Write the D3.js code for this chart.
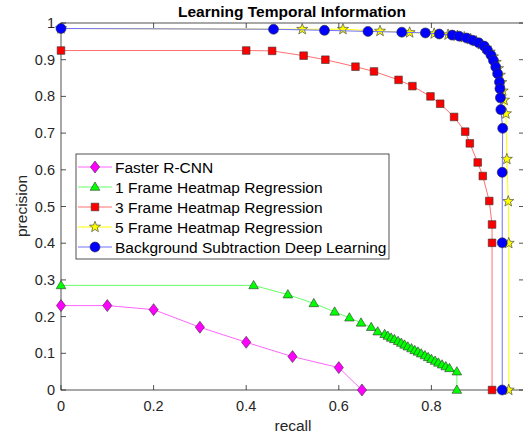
<!DOCTYPE html>
<html>
<head>
<meta charset="utf-8">
<script src="https://cdn.jsdelivr.net/npm/d3@7"></script>
<style>
  body { margin: 0; background: #fff; }
  svg text { font-family: "Liberation Sans", Arial, sans-serif; }
</style>
</head>
<body>
<svg id="chart" width="523" height="436"></svg>
<script>
// values
var xTicks = [0, 0.2, 0.4, 0.6, 0.8, 1]
var yTicks = [0, 0.1, 0.2, 0.3, 0.4, 0.5, 0.6, 0.7, 0.8, 0.9, 1]

var fasterRecall = [0, 0.1, 0.2, 0.3, 0.4, 0.5, 0.6, 0.65]
var fasterPrecision = [0.23, 0.23, 0.219, 0.171, 0.13, 0.091, 0.061, 0]

var frame1Recall = [0, 0.416, 0.49, 0.546, 0.591, 0.623, 0.648, 0.67, 0.684,
  0.699, 0.706, 0.713, 0.72, 0.728, 0.735, 0.742, 0.749, 0.757, 0.764,
  0.771, 0.778, 0.786, 0.793, 0.8, 0.808, 0.815, 0.823, 0.831, 0.839, 0.855, 0.855]
var frame1Precision = [0.285, 0.285, 0.26, 0.236, 0.213, 0.197, 0.183, 0.171, 0.159,
  0.152, 0.147, 0.142, 0.138, 0.133, 0.128, 0.123, 0.118, 0.113, 0.108,
  0.104, 0.099, 0.094, 0.089, 0.084, 0.079, 0.074, 0.069, 0.064, 0.059, 0.05, 0]

var frame3Recall = [0, 0.4, 0.456, 0.524, 0.571, 0.636, 0.676, 0.729, 0.759, 0.798,
  0.819, 0.849, 0.873, 0.883, 0.9, 0.911, 0.925, 0.931, 0.931, 0.931]
var frame3Precision = [0.925, 0.925, 0.924, 0.911, 0.9, 0.881, 0.868, 0.845, 0.828, 0.8,
  0.78, 0.744, 0.704, 0.672, 0.62, 0.583, 0.515, 0.451, 0.401, 0]

var frame5Recall = [0, 0.521, 0.609, 0.689, 0.753, 0.806, 0.836, 0.856, 0.871, 0.885,
  0.897, 0.908, 0.918, 0.926, 0.933, 0.939, 0.944, 0.948, 0.951, 0.954, 0.957,
  0.961, 0.963, 0.966, 0.967, 0.967]
var frame5Precision = [0.985, 0.983, 0.983, 0.978, 0.974, 0.971, 0.968, 0.965, 0.961, 0.956,
  0.95, 0.942, 0.932, 0.921, 0.908, 0.893, 0.876, 0.858, 0.838, 0.815, 0.79,
  0.753, 0.629, 0.514, 0.4, 0]

var bsdlRecall = [0, 0.459, 0.569, 0.663, 0.736, 0.787, 0.817, 0.845, 0.86, 0.876,
  0.889, 0.902, 0.914, 0.921, 0.929, 0.934, 0.939, 0.943, 0.947, 0.948, 0.949,
  0.95, 0.954, 0.953, 0.953, 0.953]
var bsdlPrecision = [0.985, 0.983, 0.98, 0.977, 0.975, 0.973, 0.97, 0.967, 0.964, 0.959,
  0.953, 0.946, 0.937, 0.926, 0.912, 0.898, 0.88, 0.862, 0.839, 0.821, 0.796,
  0.764, 0.713, 0.593, 0.401, 0]

var seriesNames = ["Faster R-CNN", "1 Frame Heatmap Regression", "3 Frame Heatmap Regression",
  "5 Frame Heatmap Regression", "Background Subtraction Deep Learning"]

var series = [
  { name: seriesNames[0], x: fasterRecall, y: fasterPrecision, line: "#ff66ff", fill: "#ff00ff", marker: "diamond" },
  { name: seriesNames[1], x: frame1Recall, y: frame1Precision, line: "#66ff66", fill: "#00ff00", marker: "triangle" },
  { name: seriesNames[2], x: frame3Recall, y: frame3Precision, line: "#ff7070", fill: "#ff0000", marker: "square" },
  { name: seriesNames[3], x: frame5Recall, y: frame5Precision, line: "#ffff00", fill: "#ffff00", marker: "star" },
  { name: seriesNames[4], x: bsdlRecall, y: bsdlPrecision, line: "#7070ff", fill: "#0000ff", marker: "circle" }
]

var margin = { left: 61, top: 23, right: 524, bottom: 390 }
var axisColor = "#262626"

var svg = d3.select("#chart")
var xScale = d3.scaleLinear().domain([0, 1]).range([margin.left, margin.right])
var yScale = d3.scaleLinear().domain([0, 1]).range([margin.bottom, margin.top])

function markerPath(type) {
  if (type == "diamond") return "M0,-6L4.6,0L0,6L-4.6,0Z"
  if (type == "triangle") return "M0,-5L4.8,3.3L-4.8,3.3Z"
  if (type == "square") return "M-3.8,-3.8H3.8V3.8H-3.8Z"
  if (type == "circle") return "M5,0A5,5 0 1,1 -5,0A5,5 0 1,1 5,0Z"
  // star
  var pts = []
  for (var k = 0; k < 10; k++) {
    var r = k % 2 == 0 ? 5.8 : 2.4
    var a = -Math.PI / 2 + k * Math.PI / 5
    pts.push([r * Math.cos(a), r * Math.sin(a)])
  }
  return "M" + pts.map(function(p) { return p[0].toFixed(2) + "," + p[1].toFixed(2) }).join("L") + "Z"
}

// axes box
svg.append("rect")
  .attr("x", margin.left).attr("y", margin.top)
  .attr("width", margin.right - margin.left).attr("height", margin.bottom - margin.top)
  .attr("fill", "#fff").attr("stroke", axisColor).attr("stroke-width", 0.8)

var tickLen = 5
var ticksG = svg.append("g").attr("stroke", axisColor).attr("stroke-width", 0.8)
xTicks.forEach(function(t) {
  var x = xScale(t)
  ticksG.append("line").attr("x1", x).attr("x2", x).attr("y1", margin.bottom).attr("y2", margin.bottom - tickLen)
  ticksG.append("line").attr("x1", x).attr("x2", x).attr("y1", margin.top).attr("y2", margin.top + tickLen)
})
yTicks.forEach(function(t) {
  var y = yScale(t)
  ticksG.append("line").attr("x1", margin.left).attr("x2", margin.left + tickLen).attr("y1", y).attr("y2", y)
  ticksG.append("line").attr("x1", margin.right).attr("x2", margin.right - tickLen).attr("y1", y).attr("y2", y)
})

svg.append("g").selectAll("text").data(xTicks.filter(function(t) { return t < 1 }))
  .enter().append("text")
  .attr("x", function(d) { return xScale(d) })
  .attr("y", 411)
  .attr("text-anchor", "middle")
  .attr("font-size", 14.5)
  .attr("fill", axisColor)
  .text(function(d) { return d3.format("")(d) })

svg.append("g").selectAll("text").data(yTicks)
  .enter().append("text")
  .attr("x", 55)
  .attr("y", function(d) { return yScale(d) + 5 })
  .attr("text-anchor", "end")
  .attr("font-size", 14.5)
  .attr("fill", axisColor)
  .text(function(d) { return d3.format("")(d) })

svg.append("text")
  .attr("x", 293).attr("y", 431)
  .attr("text-anchor", "middle").attr("font-size", 15.5).attr("fill", axisColor)
  .text("recall")

svg.append("text")
  .attr("transform", "translate(27,206) rotate(-90)")
  .attr("text-anchor", "middle").attr("font-size", 15.5).attr("fill", axisColor)
  .text("precision")

svg.append("text")
  .attr("x", 292).attr("y", 17)
  .attr("text-anchor", "middle").attr("font-size", 15.5).attr("font-weight", "bold").attr("fill", "#000")
  .text("Learning Temporal Information")

// series
var line = d3.line()
  .x(function(d) { return xScale(d[0]) })
  .y(function(d) { return yScale(d[1]) })

series.forEach(function(s) {
  var pts = s.x.map(function(v, i) { return [v, s.y[i]] })
  var g = svg.append("g")
  g.append("path")
    .attr("d", line(pts))
    .attr("fill", "none")
    .attr("stroke", s.line)
    .attr("stroke-width", 1)
  g.selectAll(".mk").data(pts).enter().append("path")
    .attr("class", "mk")
    .attr("d", markerPath(s.marker))
    .attr("transform", function(d) { return "translate(" + xScale(d[0]) + "," + yScale(d[1]) + ")" })
    .attr("fill", s.fill)
    .attr("stroke", "#333")
    .attr("stroke-width", 0.6)
})

// legend
var legend = svg.append("g")
legend.append("rect")
  .attr("x", 76).attr("y", 154).attr("width", 313).attr("height", 105)
  .attr("fill", "#fff").attr("stroke", axisColor).attr("stroke-width", 0.8)

series.forEach(function(s, i) {
  var y = 167 + i * 20
  legend.append("line")
    .attr("x1", 78).attr("x2", 112).attr("y1", y).attr("y2", y)
    .attr("stroke", s.line).attr("stroke-width", 1)
  legend.append("path")
    .attr("d", markerPath(s.marker))
    .attr("transform", "translate(95," + y + ")")
    .attr("fill", s.fill).attr("stroke", "#333").attr("stroke-width", 0.6)
  legend.append("text")
    .attr("x", 115).attr("y", y + 5.5)
    .attr("font-size", 15.5).attr("fill", "#000")
    .text(s.name)
})
</script>
</body>
</html>
